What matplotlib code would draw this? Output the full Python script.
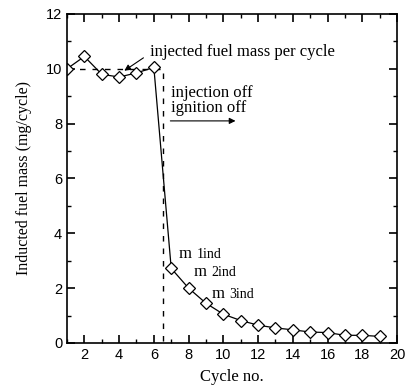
import matplotlib
matplotlib.use("Agg")
import matplotlib.pyplot as plt
from matplotlib.ticker import MultipleLocator

# measured inducted fuel mass per cycle
cycles = [1, 2, 3, 4, 5, 6, 7, 8, 9, 10, 11, 12, 13, 14, 15, 16, 17, 18, 19]
fuel_mass = [10.0, 10.45, 9.8, 9.7, 9.85, 10.05, 2.72, 2.0, 1.45, 1.05,
             0.82, 0.65, 0.55, 0.48, 0.4, 0.38, 0.28, 0.28, 0.24]

# injected fuel mass (dashed): constant until injection is cut off
inj_x = [1, 6.5, 6.5]
inj_y = [10.0, 10.0, 0.0]

serif = ["Liberation Serif", "DejaVu Serif"]
sans = ["Liberation Sans", "DejaVu Sans"]

fig = plt.figure(figsize=(4.06, 3.88), dpi=100)
ax = fig.add_axes([0.165, 0.116, 0.813, 0.848])

ax.plot(inj_x, inj_y, color="black", lw=1.0, ls=(0, (4, 5)))
ax.plot(cycles, fuel_mass, color="black", lw=0.9, marker="D", ms=6.5,
        mfc="white", mec="black", mew=0.9)

ax.set_xlim(1, 20)
ax.set_ylim(0, 12)
ax.xaxis.set_major_locator(MultipleLocator(2))
ax.xaxis.set_minor_locator(MultipleLocator(1))
ax.yaxis.set_major_locator(MultipleLocator(2))
ax.yaxis.set_minor_locator(MultipleLocator(1))
ax.tick_params(which="both", direction="in", top=True, right=True,
               labelsize=10.5)
ax.tick_params(which="major", length=6, width=1.2)
ax.tick_params(which="minor", length=3, width=1.0)
for lab in ax.get_xticklabels() + ax.get_yticklabels():
    lab.set_family(sans)
for s in ax.spines.values():
    s.set_linewidth(1.2)

ax.set_xlabel("Cycle no.", family=serif, fontsize=12, labelpad=5)
ax.set_ylabel("Inducted fuel mass (mg/cycle)", family=serif, fontsize=11.5,
              labelpad=10)

ax.text(5.75, 10.6, "injected fuel mass per cycle", family=serif,
        fontsize=12, va="center", ha="left")
ax.annotate("", xy=(4.3, 9.93), xytext=(5.4, 10.4),
            arrowprops=dict(arrowstyle="-|>", color="black", lw=0.8,
                            mutation_scale=9, shrinkA=0, shrinkB=0))
ax.text(7.0, 8.85, "injection off\nignition off", family=serif,
        fontsize=12, va="center", ha="left", linespacing=0.9)
ax.annotate("", xy=(10.7, 8.1), xytext=(6.95, 8.1),
            arrowprops=dict(arrowstyle="-|>", color="black", lw=0.8,
                            mutation_scale=9, shrinkA=0, shrinkB=0))

for (x, y, sub) in [(7.45, 3.25, "1ind"), (8.3, 2.6, "2ind"), (9.35, 1.8, "3ind")]:
    ax.text(x, y, "m", family=serif, fontsize=12, va="center", ha="left")
    ax.text(x + 1.0, y - 0.03, sub, family=serif, fontsize=10, va="center",
            ha="left")

fig.savefig("out.png", dpi=100)
